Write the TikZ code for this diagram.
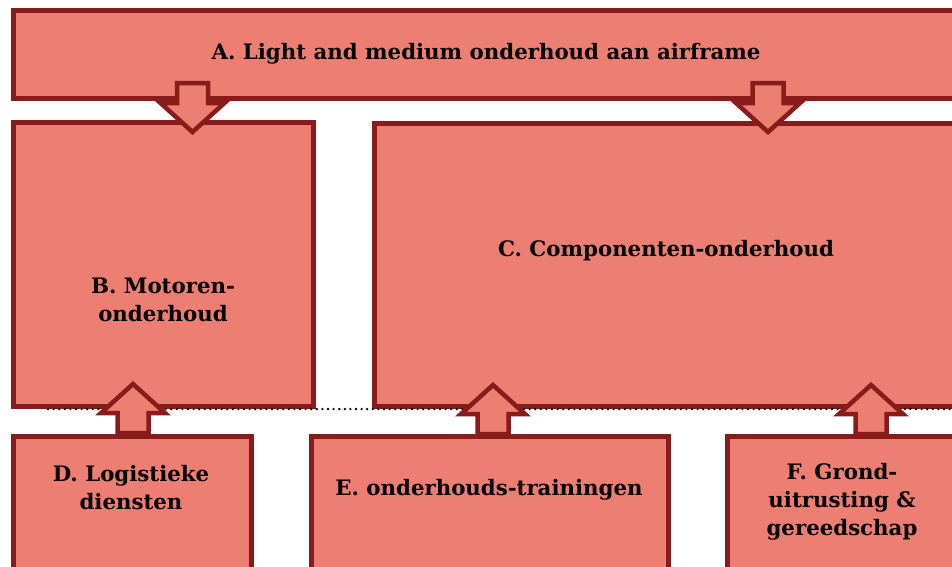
\documentclass[tikz,border=0pt]{standalone}
\usepackage{fontspec}
\setmainfont{DejaVu Serif}
\usetikzlibrary{shapes,arrows}
\usetikzlibrary{positioning}
\definecolor{boxfill}{RGB}{236,127,114}
\definecolor{boxline}{RGB}{138,27,27}
\tikzstyle{block} = [rectangle, draw=boxline, fill=boxfill, line width=5pt,
    inner sep=0pt, outer sep=0pt, anchor=north west]
\tikzstyle{lbl} = [font=\bfseries\fontsize{21.3}{28}\selectfont, align=center]
\tikzstyle{bigarrow} = [draw=boxline, fill=boxfill, line width=4.5pt, line join=miter]
\tikzstyle{sep} = [draw, black, line width=2.6pt, line cap=round,
    dash pattern=on 0pt off 5.6pt]
% block arrow pointing down (y grows downwards), centred on a coordinate
\newcommand{\blockarrow}[2]{%
  \draw [bigarrow, shift={(#1)}, yscale=#2]
    (-15.5,-24.5) -- (15.5,-24.5) -- (15.5,-4.5) -- (32,-4.5) -- (0,24.5)
    -- (-32,-4.5) -- (-15.5,-4.5) -- cycle;}

\begin{document}
\begin{tikzpicture}[x=1pt, y=-1pt]
  \useasboundingbox (0,0) rectangle (952,566);
  \clip (0,0) rectangle (952,566);
  % Place nodes
  \node [block, minimum width=947pt, minimum height=88pt] (A) at (13,10) {};
  \node [block, minimum width=300pt, minimum height=284pt] (B) at (13,122) {};
  \node [block, minimum width=586pt, minimum height=283pt] (C) at (374,123) {};
  \node [block, minimum width=238pt, minimum height=160pt] (D) at (13,436) {};
  \node [block, minimum width=357pt, minimum height=160pt] (E) at (311,436) {};
  \node [block, minimum width=233pt, minimum height=160pt] (F) at (727,436) {};

  % Texts
  \node [lbl] (tA) at (486,54) {A. Light and medium onderhoud aan airframe};
  \node [lbl] (tB) at (163,300) {B. Motoren-\\onderhoud};
  \node [lbl] (tC) at (666,251) {C. Componenten-onderhoud};
  \node [lbl] (tD) at (131,488) {D. Logistieke\\diensten};
  \node [lbl] (tE) at (489,490) {E. onderhouds-trainingen};
  \node [lbl] (tF) at (842,502) {F. Grond-\\uitrusting \&\\gereedschap};

  % Dotted separator
  \coordinate (sepL) at (48,409);
  \coordinate (sepR) at (952,409);
  \path [sep] (sepL) -- (sepR);

  % Block arrows
  \coordinate (AB) at (192.5,107.5);
  \coordinate (AC) at (768,107.5);
  \coordinate (DB) at (133,408.5);
  \coordinate (EC) at (493,409.5);
  \coordinate (FC) at (871,409.5);
  \blockarrow{AB}{1}
  \blockarrow{AC}{1}
  \blockarrow{DB}{-1}
  \blockarrow{EC}{-1}
  \blockarrow{FC}{-1}
\end{tikzpicture}
\end{document}
